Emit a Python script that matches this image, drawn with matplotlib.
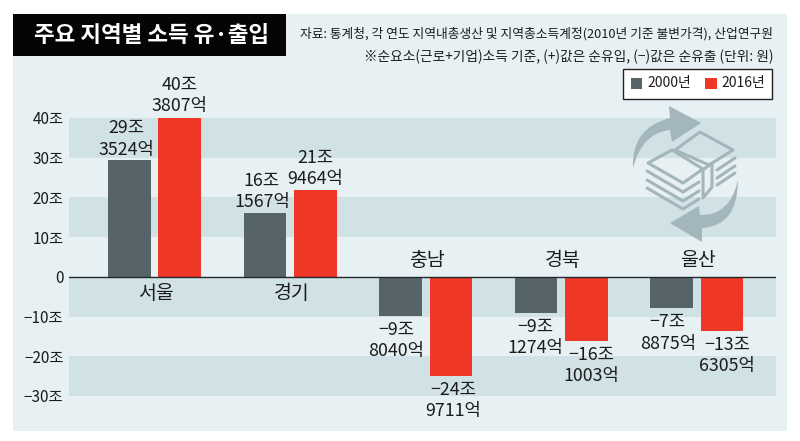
import matplotlib
matplotlib.use('Agg')
import matplotlib.pyplot as plt
from matplotlib.patches import Polygon, Rectangle, PathPatch
from matplotlib.path import Path

plt.rcParams['font.family'] = ['Noto Sans CJK KR', 'DejaVu Sans']

title = '주요 지역별 소득 유·출입'
note1 = '자료: 통계청, 각 연도 지역내총생산 및 지역총소득계정(2010년 기준 불변가격), 산업연구원'
note2 = '※순요소(근로+기업)소득 기준, (+)값은 순유입, (−)값은 순유출 (단위: 원)'
regions = ['서울', '경기', '충남', '경북', '울산']
series_names = ['2000년', '2016년']
values_2000 = [29.3524, 16.1567, -9.8040, -9.1274, -7.8875]
values_2016 = [40.3807, 21.9464, -24.9711, -16.1003, -13.6305]
labels_2000 = ['29조\n3524억', '16조\n1567억', '−9조\n8040억', '−9조\n1274억', '−7조\n8875억']
labels_2016 = ['40조\n3807억', '21조\n9464억', '−24조\n9711억', '−16조\n1003억', '−13조\n6305억']
yticks = [40, 30, 20, 10, 0, -10, -20, -30]
ytick_labels = ['40조', '30조', '20조', '10조', '0', '−10조', '−20조', '−30조']
band_edges = [(30, 40), (10, 20), (-10, 0), (-30, -20)]

W, H = 800, 441
PANEL = '#e7f0f3'; BAND = '#d1e2e7'; GRAY = '#566469'; RED = '#ee3725'; ICON = '#a3b6bc'; TXT = '#1c1c1c'

fig = plt.figure(figsize=(W/100, H/100), dpi=100, facecolor='white')
bg = fig.add_axes([0, 0, 1, 1]); bg.set_xlim(0, W); bg.set_ylim(H, 0); bg.axis('off')
bg.add_patch(Rectangle((13, 14), 774, 417, fc=PANEL, ec='none'))

# main axes: x 69..776 px, y 40 -> 118 px, -30 -> 396 px
L, R, T, B = 69, 776, 118, 396
ax = fig.add_axes([L/W, 1-B/H, (R-L)/W, (B-T)/H])
ax.patch.set_alpha(0)
step = 135.6
ax.set_xlim((L-154.5)/step, (R-154.5)/step)
ax.set_ylim(-30, 40)
for lo, hi in band_edges:
    ax.axhspan(lo, hi, color=BAND, lw=0, zorder=0)

# overlay in pixel coordinates for the decoration
fg = fig.add_axes([0, 0, 1, 1]); fg.set_xlim(0, W); fg.set_ylim(H, 0); fg.axis('off'); fg.patch.set_alpha(0)
M, Q, LN = Path.MOVETO, Path.CURVE3, Path.LINETO
arc1 = Path([(633,168),(631,128),(670,118),(669,106),(701,123),(672,142),(670,130),(642,133),(633,168)],
            [M,Q,Q,LN,LN,LN,LN,Q,Q])
arc2 = Path([(738,180),(738,226),(702,228),(702,242),(670,223),(699,206),(700,215),(730,216),(738,180)],
            [M,Q,Q,LN,LN,LN,LN,Q,Q])
fg.add_patch(PathPatch(arc1, fc=ICON, ec='none'))
fg.add_patch(PathPatch(arc2, fc=ICON, ec='none'))
lk = dict(fill=False, ec=ICON, lw=2.2, joinstyle='round')
fg.add_patch(Polygon([(648,163),(672,150),(703,169),(683,183)], **lk))
fg.add_patch(Polygon([(675,150),(700,132),(733,150),(709,165)], **lk))
fg.add_patch(Polygon([(703,170),(712,163),(712,187),(703,198)], **lk))
for dy in (0, 9, 17):
    fg.plot([647,683,699],[171+dy,192+dy,182+dy], color=ICON, lw=2.2, solid_capstyle='round')
for dy in (0, 8, 15):
    fg.plot([717,735],[170+dy,158+dy], color=ICON, lw=2.2, solid_capstyle='round')

gw = 42.5/step; off = 25.2/step
for i, (a, b) in enumerate(zip(values_2000, values_2016)):
    ax.bar(i-off, a, gw, color=GRAY, zorder=3)
    ax.bar(i+off, b, gw, color=RED, zorder=3)
ax.axhline(0, color='#20282b', lw=1.0, zorder=4)
ax.set_yticks(yticks); ax.set_yticklabels(ytick_labels, fontsize=11, color=TXT)
ax.tick_params(left=False, bottom=False, labelbottom=False, length=0, pad=4)
ax.set_xticks([])
for s in ax.spines.values():
    s.set_visible(False)

# value labels, nudged sideways as in the reference (px)
nudge_2000 = [-3, -3, -4, -1, -4]
nudge_2016 = [0, 0, 2, 5, 5]
for i in range(5):
    for vals, labs, nudge, dx in ((values_2000, labels_2000, nudge_2000, -off), (values_2016, labels_2016, nudge_2016, off)):
        v = vals[i]
        up = v >= 0
        ax.annotate(labs[i], (i+dx, v), xytext=(nudge[i]*0.72, 1 if up else -3.5), textcoords='offset points',
                    ha='center', va='bottom' if up else 'top', fontsize=12.8, color=TXT,
                    linespacing=1.25, zorder=5, annotation_clip=False)
# region labels
for i, r in enumerate(regions):
    v = values_2016[i]
    ax.annotate(r, (i, 0), xytext=(1, -12 if v > 0 else 12), textcoords='offset points', ha='center', va='center',
                fontsize=14, color=TXT, zorder=5)

# title
fg.add_patch(Rectangle((13, 14), 273, 42, fc='#050505', ec='none'))
fg.text(151, 35, title, color='white', fontsize=16.2, fontweight='bold', ha='center', va='center')
fg.text(773, 34, note1, fontsize=9.2, color=TXT, ha='right', va='center')
fg.text(773, 57, note2, fontsize=9.85, color=TXT, ha='right', va='center')

# legend
fg.add_patch(Rectangle((623, 69), 149, 30, fc='white', ec='#222222', lw=1))
fg.add_patch(Rectangle((631, 78), 11, 11, fc=GRAY, ec='none'))
fg.add_patch(Rectangle((705, 78), 12, 11, fc=RED, ec='none'))
fg.text(647, 83.5, series_names[0], fontsize=10, color=TXT, va='center')
fg.text(721, 83.5, series_names[1], fontsize=10, color=TXT, va='center')

fig.savefig('out.png', dpi=100, facecolor='white')
